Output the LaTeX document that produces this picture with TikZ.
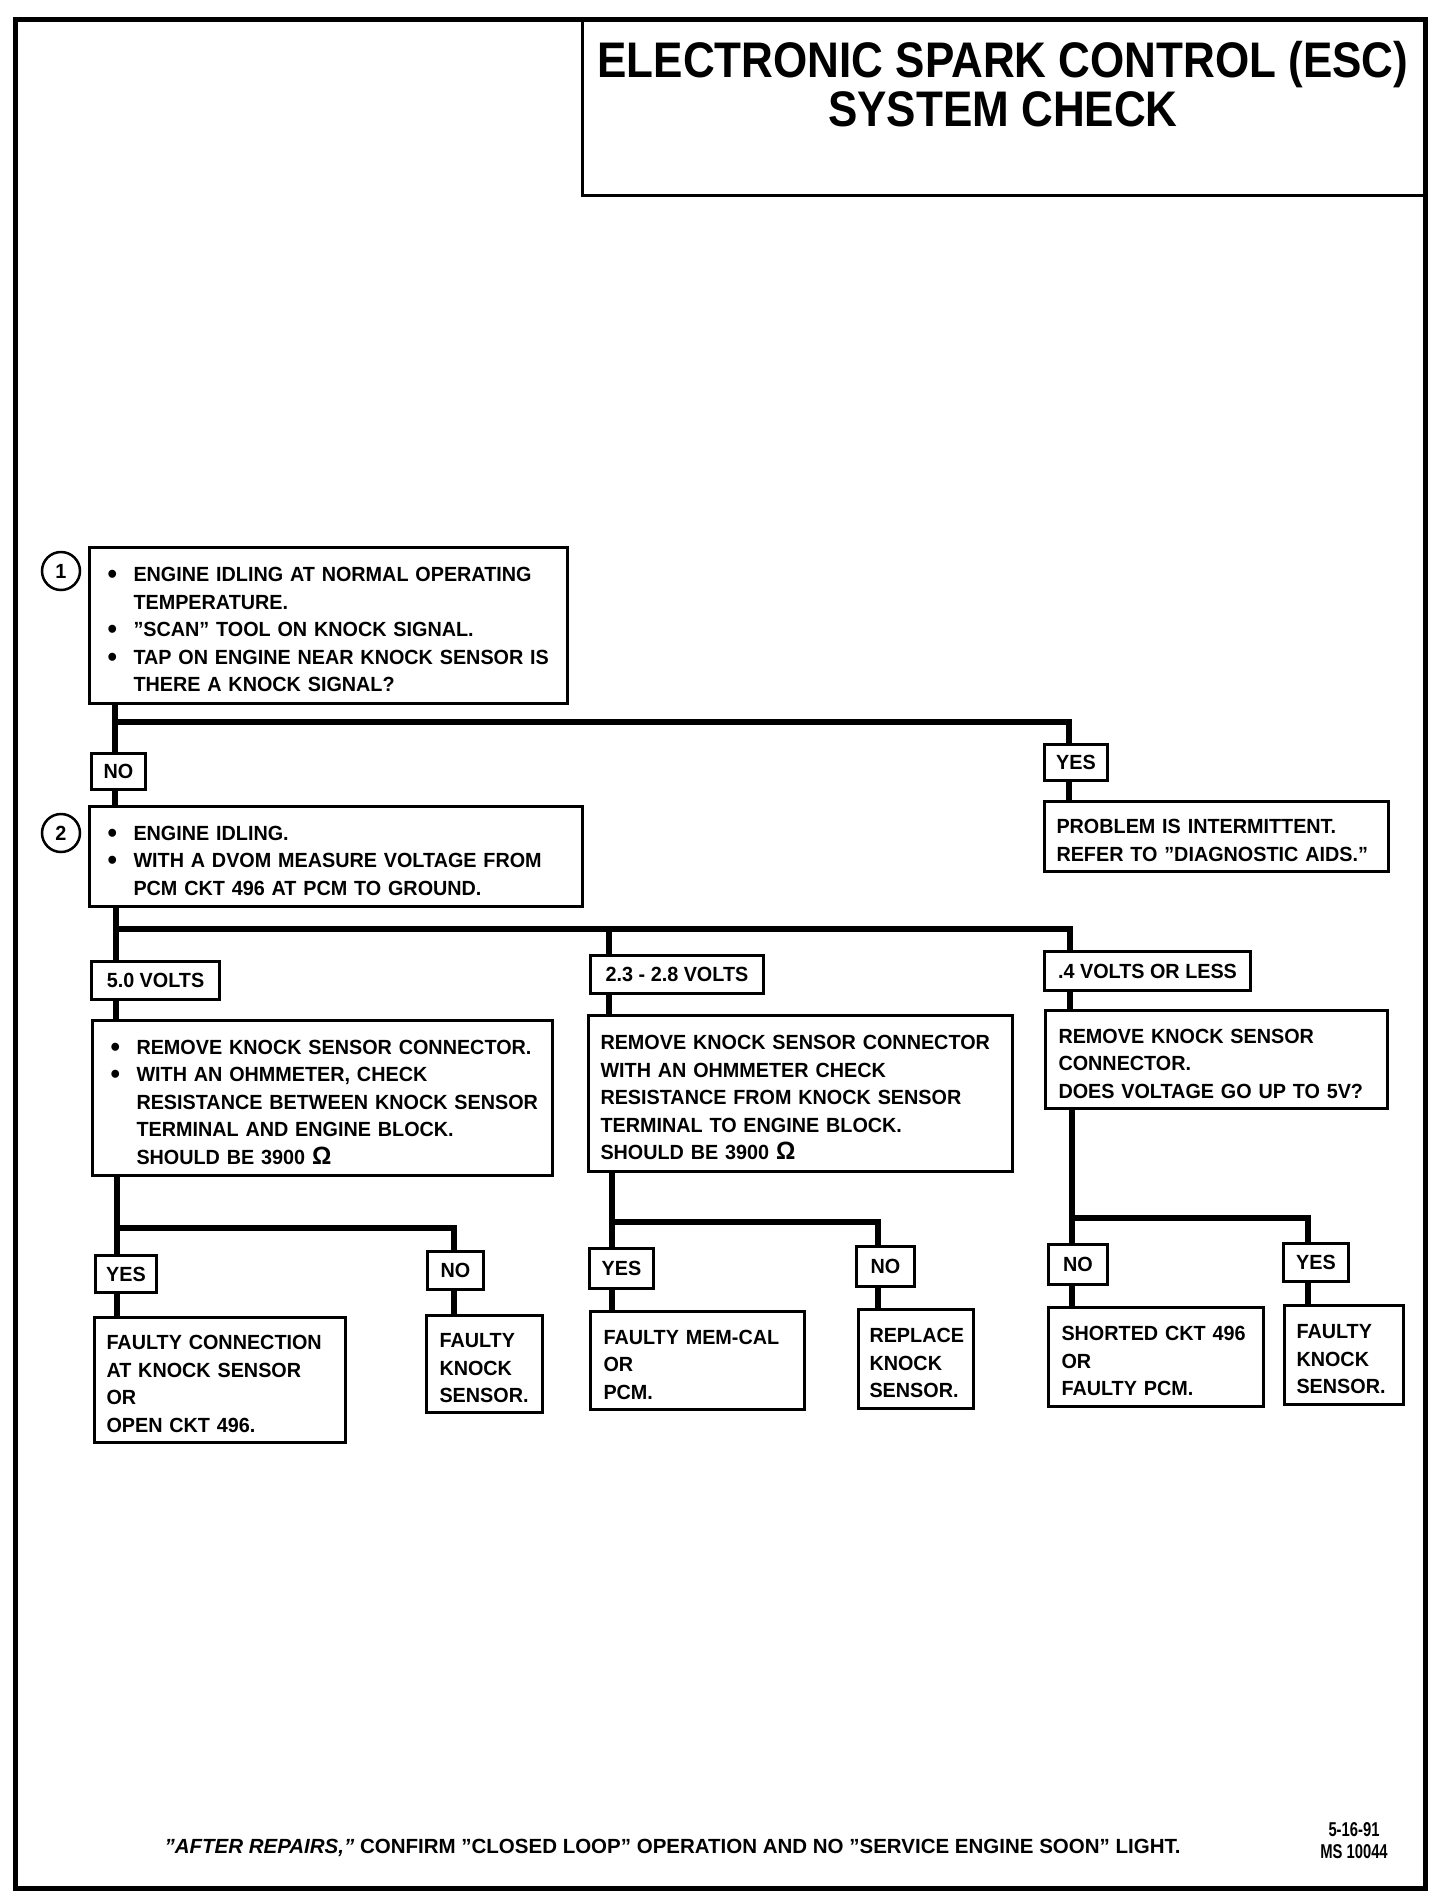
\documentclass[tikz,border=0pt]{standalone}
\usepackage{fontspec}
\setmainfont{Liberation Sans}
\newfontfamily\titlefont{Liberation Sans}[FakeStretch=0.88]
\newfontfamily\bodyfam{Liberation Sans}[FakeStretch=0.965]
\newfontfamily\datefam{Liberation Sans}[FakeStretch=0.74]
\usetikzlibrary{calc}
\newcommand\bodyfont{\bodyfam\fontsize{20.5}{27.5}\selectfont\bfseries}
\newcommand\bul{\makebox[26pt][l]{\raisebox{-2pt}{\fontsize{28}{28}\selectfont\textbullet}}}
\newcommand\ind{\hspace*{26pt}}
\newcommand\ohm{{\fontsize{25}{25}\selectfont Ω}}
\begin{document}
\begin{tikzpicture}[x=1pt,y=-1pt,
  every node/.style={font=\bodyfont},
  box/.style={draw,line width=3pt,anchor=north west,inner ysep=0pt,align=left,
    execute at begin node={\rule{0pt}{22.5pt}}},
  lab/.style={draw,line width=3pt,anchor=north west,inner sep=0pt,align=center},
  stepno/.style={draw,circle,line width=2.5pt,minimum size=38pt,inner sep=0pt},
  conn/.style={line width=6pt,line join=miter}]
\useasboundingbox (0,0) rectangle (1456,1898);

% page frame and title
\draw[line width=5pt] (15,19) rectangle (1425,1888);
\node[draw,line width=2.5pt,anchor=north west,minimum width=844pt,minimum height=176pt,inner sep=0pt] (ttlbox) at (581,18) {};
\node[font=\titlefont\bfseries\fontsize{50}{49}\selectfont,align=center] (ttl) at (1003,84.5)
  {ELECTRONIC SPARK CONTROL (ESC)\\SYSTEM CHECK};

% step 1
\node[stepno] (c1) at (61,571) {1};
\node[box,minimum width=478pt,minimum height=156pt,inner xsep=18pt,text width=442pt] (b1) at (88,546)
  {\mbox{\bul ENGINE IDLING AT NORMAL OPERATING}\\
   \mbox{\ind TEMPERATURE.}\\
   \mbox{\bul ”SCAN” TOOL ON KNOCK SIGNAL.}\\
   \mbox{\bul TAP ON ENGINE NEAR KNOCK SENSOR IS}\\
   \mbox{\ind THERE A KNOCK SIGNAL?}};
\node[lab,minimum width=54pt,minimum height=36pt] (nol) at (90,752) {NO};
\node[lab,minimum width=63pt,minimum height=36pt] (yes1) at (1043,743) {YES};
\node[box,minimum width=344pt,minimum height=70pt,inner xsep=12pt,text width=320pt] (bp) at (1043,800)
  {\mbox{PROBLEM IS INTERMITTENT.}\\
   \mbox{REFER TO ”DIAGNOSTIC AIDS.”}};

% step 2
\node[stepno] (c2) at (61,833) {2};
\node[box,minimum width=493pt,minimum height=100pt,inner xsep=18pt,text width=457pt] (b2) at (88,805)
  {\mbox{\bul ENGINE IDLING.}\\
   \mbox{\bul WITH A DVOM MEASURE VOLTAGE FROM}\\
   \mbox{\ind PCM CKT 496 AT PCM TO GROUND.}};

\node[lab,minimum width=128pt,minimum height=38pt] (v5) at (90,960) {5.0 VOLTS};
\node[lab,minimum width=173pt,minimum height=38pt] (v23) at (589,954) {2.3 - 2.8 VOLTS};
\node[lab,minimum width=206pt,minimum height=39pt] (v4) at (1043,950) {.4 VOLTS OR LESS};

\node[box,minimum width=460pt,minimum height=155pt,inner xsep=18pt,text width=424pt] (bA) at (91,1019)
  {\mbox{\bul REMOVE KNOCK SENSOR CONNECTOR.}\\
   \mbox{\bul WITH AN OHMMETER, CHECK}\\
   \mbox{\ind RESISTANCE BETWEEN KNOCK SENSOR}\\
   \mbox{\ind TERMINAL AND ENGINE BLOCK.}\\
   \mbox{\ind SHOULD BE 3900 \ohm}};
\node[box,minimum width=424pt,minimum height=156pt,inner xsep=12pt,text width=400pt] (bB) at (587,1014)
  {\mbox{REMOVE KNOCK SENSOR CONNECTOR}\\
   \mbox{WITH AN OHMMETER CHECK}\\
   \mbox{RESISTANCE FROM KNOCK SENSOR}\\
   \mbox{TERMINAL TO ENGINE BLOCK.}\\
   \mbox{SHOULD BE 3900 \ohm}};
\node[box,minimum width=342pt,minimum height=98pt,inner xsep=13pt,text width=316pt] (bC) at (1044,1009)
  {\mbox{REMOVE KNOCK SENSOR}\\
   \mbox{CONNECTOR.}\\
   \mbox{DOES VOLTAGE GO UP TO 5V?}};

% outcome labels
\node[lab,minimum width=61pt,minimum height=37pt] (yA) at (94,1254) {YES};
\node[lab,minimum width=56pt,minimum height=38pt] (nA) at (426,1250) {NO};
\node[lab,minimum width=64pt,minimum height=40pt] (yB) at (588,1247) {YES};
\node[lab,minimum width=58pt,minimum height=40pt] (nB) at (855,1245) {NO};
\node[lab,minimum width=59pt,minimum height=40pt] (nC) at (1047,1243) {NO};
\node[lab,minimum width=65pt,minimum height=38pt] (yC) at (1282,1242) {YES};

% outcome boxes
\node[box,minimum width=251pt,minimum height=125pt,inner xsep=12pt,text width=227pt] (bA1) at (93,1316)
  {\mbox{FAULTY CONNECTION}\\ \mbox{AT KNOCK SENSOR}\\ \mbox{OR}\\ \mbox{OPEN CKT 496.}};
\node[box,minimum width=116pt,minimum height=97pt,inner xsep=13pt,text width=90pt] (bA2) at (425,1314)
  {\mbox{FAULTY}\\ \mbox{KNOCK}\\ \mbox{SENSOR.}};
\node[box,minimum width=214pt,minimum height=98pt,inner xsep=13pt,text width=188pt] (bB1) at (589,1310)
  {\mbox{FAULTY MEM-CAL}\\ \mbox{OR}\\ \mbox{PCM.}};
\node[box,minimum width=115pt,minimum height=99pt,inner xsep=11pt,text width=93pt] (bB2) at (857,1308)
  {\mbox{REPLACE}\\ \mbox{KNOCK}\\ \mbox{SENSOR.}};
\node[box,minimum width=215pt,minimum height=99pt,inner xsep=13pt,text width=189pt] (bC1) at (1047,1306)
  {\mbox{SHORTED CKT 496}\\ \mbox{OR}\\ \mbox{FAULTY PCM.}};
\node[box,minimum width=119pt,minimum height=99pt,inner xsep=12pt,text width=95pt] (bC2) at (1283,1304)
  {\mbox{FAULTY}\\ \mbox{KNOCK}\\ \mbox{SENSOR.}};

% junctions
\coordinate (j1) at (115,722);  \coordinate (j1r) at (1069,722);
\coordinate (j2) at (116,929);  \coordinate (j2m) at (609,929); \coordinate (j2r) at (1070,929);
\coordinate (jA) at (117,1228); \coordinate (jAr) at (454,1228);
\coordinate (jB) at (612,1222); \coordinate (jBr) at (878,1222);
\coordinate (jC) at (1072,1218); \coordinate (jCr) at (1308,1218);

% connectors
\draw[conn] (b1.south -| j1) -- (nol.north -| j1);
\draw[conn] (yes1.north -| j1r) -- (j1r) -- ([xshift=-3pt]j1);
\draw[conn] (nol.south -| j1) -- (b2.north -| j1);
\draw[conn] (yes1.south -| j1r) -- (bp.north -| j1r);

\draw[conn] (b2.south -| j2) -- (v5.north -| j2);
\draw[conn] (v4.north -| j2r) -- (j2r) -- ([xshift=-3pt]j2);
\draw[conn] (j2m) -- (v23.north -| j2m);
\draw[conn] (v5.south -| j2) -- (bA.north -| j2);
\draw[conn] (v23.south -| j2m) -- (bB.north -| j2m);
\draw[conn] (v4.south -| j2r) -- (bC.north -| j2r);

\draw[conn] (bA.south -| jA) -- (yA.north -| jA);
\draw[conn] (nA.north -| jAr) -- (jAr) -- ([xshift=-3pt]jA);
\draw[conn] (yA.south -| jA) -- (bA1.north -| jA);
\draw[conn] (nA.south -| jAr) -- (bA2.north -| jAr);

\draw[conn] (bB.south -| jB) -- (yB.north -| jB);
\draw[conn] (nB.north -| jBr) -- (jBr) -- ([xshift=-3pt]jB);
\draw[conn] (yB.south -| jB) -- (bB1.north -| jB);
\draw[conn] (nB.south -| jBr) -- (bB2.north -| jBr);

\draw[conn] (bC.south -| jC) -- (nC.north -| jC);
\draw[conn] (yC.north -| jCr) -- (jCr) -- ([xshift=-3pt]jC);
\draw[conn] (nC.south -| jC) -- (bC1.north -| jC);
\draw[conn] (yC.south -| jCr) -- (bC2.north -| jCr);

% footer
\node[anchor=base west,font=\fontsize{20.5}{24}\selectfont\bfseries] (foot) at (161,1853)
  {{\itshape ”AFTER REPAIRS,”} CONFIRM ”CLOSED LOOP” OPERATION AND NO ”SERVICE ENGINE SOON” LIGHT.};
\node[align=center,font=\datefam\fontsize{20}{22}\selectfont\bfseries] (date) at (1354,1841) {5-16-91\\MS 10044};
\end{tikzpicture}
\end{document}
